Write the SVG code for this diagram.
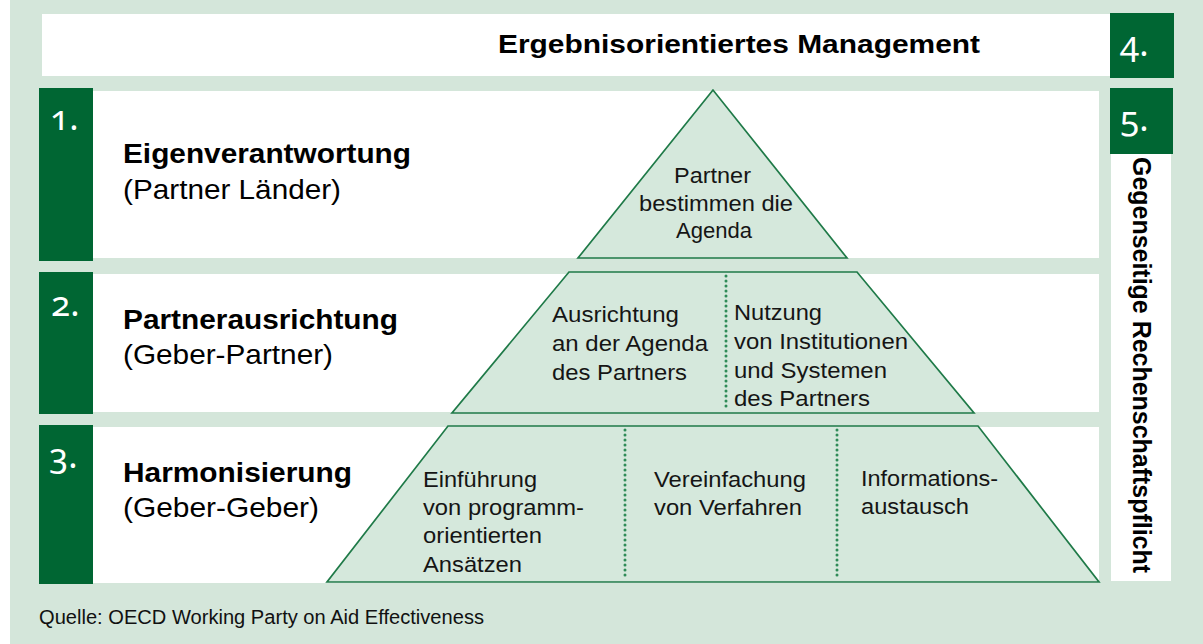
<svg xmlns="http://www.w3.org/2000/svg" width="1203" height="644" viewBox="0 0 1203 644">
<style>
.bg{fill:#D4E6DA}
.panel{fill:#FFFFFF}
.nbox{fill:#006633}
.num{font-family:"Noto Sans","DejaVu Sans",sans-serif;font-size:35px;fill:#FFFFFF;font-variant-numeric:oldstyle-nums}
.t{font-family:"Liberation Sans",Arial,sans-serif;fill:#000000}
.title{font-size:27.5px;font-weight:bold}
.sub{font-size:27.5px}
.head{font-size:26px;font-weight:bold}
.vert{font-size:25px;font-weight:bold}
.src{font-size:19.5px;fill:#111111}
.pt{font-size:22px;fill:#151515}
.tier{fill:#D5E8DC;stroke:#1F7A48;stroke-width:1.7;stroke-linejoin:miter}
.div{fill:none;stroke:#2E8B57;stroke-width:3;stroke-linecap:round;stroke-dasharray:0 5}
</style>
<rect x="0" y="0" width="1203" height="644" fill="#FFFFFF"/>
<rect class="bg" x="10" y="0" width="1193" height="644"/>

<g id="header">
  <rect class="panel" x="42" y="14" width="1068" height="62"/>
  <text class="t head" x="498" y="53" textLength="482" lengthAdjust="spacingAndGlyphs">Ergebnisorientiertes Management</text>
</g>

<g id="step4">
  <rect class="nbox" x="1110" y="13" width="64" height="65"/>
  <text class="num" x="1120" y="56">4.</text>
</g>

<g id="step5">
  <rect class="panel" x="1111" y="150" width="60" height="431"/>
  <rect class="nbox" x="1110" y="88" width="63" height="66"/>
  <text class="num" x="1120" y="130.5">5.</text>
  <text class="t vert" transform="translate(1133 157) rotate(90)" textLength="416" lengthAdjust="spacingAndGlyphs">Gegenseitige Rechenschaftspflicht</text>
</g>

<g id="step1">
  <rect class="panel" x="93" y="91" width="1006" height="167"/>
  <rect class="nbox" x="39" y="88" width="54" height="173"/>
  <text class="num" x="50" y="130">1.</text>
  <text class="t title" x="123" y="163" textLength="288" lengthAdjust="spacingAndGlyphs">Eigenverantwortung</text>
  <text class="t sub" x="123" y="199" textLength="218" lengthAdjust="spacingAndGlyphs">(Partner Länder)</text>
</g>

<g id="step2">
  <rect class="panel" x="93" y="274" width="1006" height="138"/>
  <rect class="nbox" x="39" y="272" width="54" height="142"/>
  <text class="num" x="51" y="316">2.</text>
  <text class="t title" x="123" y="329" textLength="275" lengthAdjust="spacingAndGlyphs">Partnerausrichtung</text>
  <text class="t sub" x="123" y="364" textLength="210" lengthAdjust="spacingAndGlyphs">(Geber-Partner)</text>
</g>

<g id="step3">
  <rect class="panel" x="93" y="427" width="1006" height="156"/>
  <rect class="nbox" x="39" y="425" width="54" height="159"/>
  <text class="num" x="49" y="467.5">3.</text>
  <text class="t title" x="123" y="482" textLength="229" lengthAdjust="spacingAndGlyphs">Harmonisierung</text>
  <text class="t sub" x="123" y="517" textLength="196" lengthAdjust="spacingAndGlyphs">(Geber-Geber)</text>
</g>

<g id="tier1">
  <polygon class="tier" points="713,90 578,258 847,258"/>
  <text class="t pt" x="674" y="183" textLength="77" lengthAdjust="spacingAndGlyphs">Partner</text>
  <text class="t pt" x="639" y="211" textLength="154" lengthAdjust="spacingAndGlyphs">bestimmen die</text>
  <text class="t pt" x="676" y="238" textLength="76" lengthAdjust="spacingAndGlyphs">Agenda</text>
</g>

<g id="tier2">
  <polygon class="tier" points="569,272 857,272 974,413 452,413"/>
  <text class="t pt" x="552" y="322" textLength="127" lengthAdjust="spacingAndGlyphs">Ausrichtung</text>
  <text class="t pt" x="552" y="351" textLength="156" lengthAdjust="spacingAndGlyphs">an der Agenda</text>
  <text class="t pt" x="552" y="380" textLength="135" lengthAdjust="spacingAndGlyphs">des Partners</text>
  <text class="t pt" x="734" y="320" textLength="88" lengthAdjust="spacingAndGlyphs">Nutzung</text>
  <text class="t pt" x="734" y="349" textLength="174" lengthAdjust="spacingAndGlyphs">von Institutionen</text>
  <text class="t pt" x="734" y="378" textLength="153" lengthAdjust="spacingAndGlyphs">und Systemen</text>
  <text class="t pt" x="734" y="406" textLength="136" lengthAdjust="spacingAndGlyphs">des Partners</text>
</g>

<g id="tier3">
  <polygon class="tier" points="448,426 978,426 1099,582 327,582"/>
  <text class="t pt" x="423" y="487" textLength="114" lengthAdjust="spacingAndGlyphs">Einführung</text>
  <text class="t pt" x="423" y="515" textLength="161" lengthAdjust="spacingAndGlyphs">von programm-</text>
  <text class="t pt" x="423" y="543" textLength="119" lengthAdjust="spacingAndGlyphs">orientierten</text>
  <text class="t pt" x="423" y="572" textLength="99" lengthAdjust="spacingAndGlyphs">Ansätzen</text>
  <text class="t pt" x="654" y="487" textLength="152" lengthAdjust="spacingAndGlyphs">Vereinfachung</text>
  <text class="t pt" x="654" y="515" textLength="148" lengthAdjust="spacingAndGlyphs">von Verfahren</text>
  <text class="t pt" x="861" y="486" textLength="137" lengthAdjust="spacingAndGlyphs">Informations-</text>
  <text class="t pt" x="861" y="514" textLength="108" lengthAdjust="spacingAndGlyphs">austausch</text>
</g>

<g id="connectors">
  <line class="div" x1="726" y1="276" x2="726" y2="410"/>
  <line class="div" x1="625" y1="430" x2="625" y2="580"/>
  <line class="div" x1="837" y1="430" x2="837" y2="580"/>
</g>

<g id="source">
  <text class="t src" x="39" y="624" textLength="445" lengthAdjust="spacingAndGlyphs">Quelle: OECD Working Party on Aid Effectiveness</text>
</g>
</svg>
